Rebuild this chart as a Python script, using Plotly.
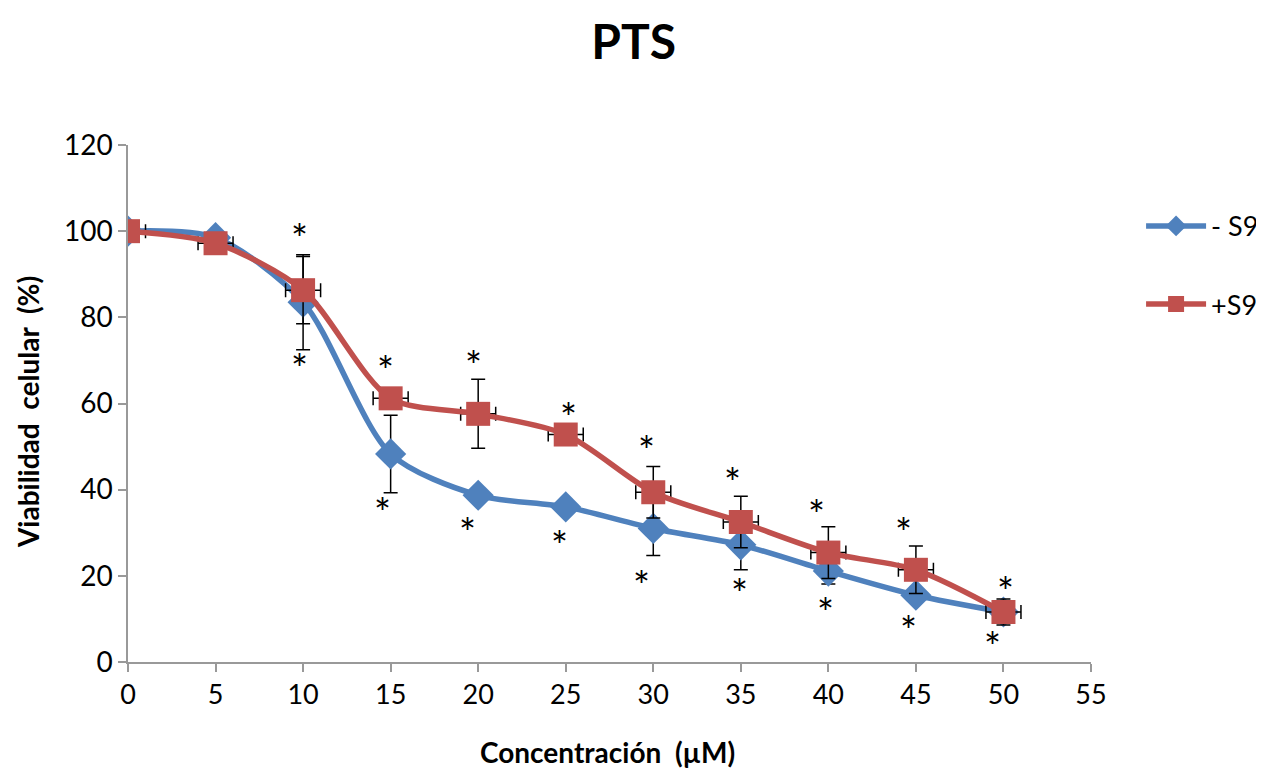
import plotly.graph_objects as go

conc = [0, 5, 10, 15, 20, 25, 30, 35, 40, 45, 50]
minus_s9 = [100, 98.5, 83.5, 48.3, 38.7, 36, 31, 27.2, 21.1, 15.5, 11.6]
minus_s9_err = [0.5, 1, 11, 9, 1, 1, 6.3, 5.8, 3, 1, 1]
plus_s9 = [100, 97.2, 86.3, 61.2, 57.6, 52.8, 39.4, 32.5, 25.4, 21.4, 11.6]
plus_s9_err = [0.5, 1, 7.8, 2, 8, 1, 6, 6, 6, 5.5, 3]
plus_s9_xerr = [1, 1, 1, 1, 1, 1, 1, 1, 1, 1, 1]

# significance asterisks (x, y in data units)
star_above_x = [9.8, 14.7, 19.75, 25.15, 29.6, 34.5, 39.3, 44.3, 50.1]
star_above_y = [100.5, 69.8, 71, 58.9, 51.3, 43.9, 36.4, 32.3, 18.6]
star_below_x = [9.8, 14.55, 19.4, 24.65, 29.3, 34.9, 39.85, 44.6, 49.4]
star_below_y = [70.3, 36.9, 32.3, 29.2, 20, 18.1, 13.7, 9.5, 5.8]

BLUE = "#4F81BD"
RED = "#C0504D"
FONT = "Lato"

fig = go.Figure()
fig.add_trace(go.Scatter(
    x=conc, y=minus_s9, name="- S9", mode="lines+markers",
    line=dict(color=BLUE, width=5.5, shape="spline", smoothing=0.8),
    marker=dict(symbol="diamond", size=24, color=BLUE),
    error_y=dict(type="data", array=minus_s9_err, color="black", thickness=1.5, width=7),
    legendgroup="a",
))
fig.add_trace(go.Scatter(
    x=conc, y=plus_s9, name="+S9", mode="lines+markers",
    line=dict(color=RED, width=5.5, shape="spline", smoothing=0.8),
    marker=dict(symbol="square", size=24, color=RED),
    error_y=dict(type="data", array=plus_s9_err, color="black", thickness=1.5, width=7),
    error_x=dict(type="data", array=plus_s9_xerr, color="black", thickness=1.5, width=7),
    legendgroup="b",
))

for xs, ys in [(star_above_x, star_above_y), (star_below_x, star_below_y)]:
    for x, y in zip(xs, ys):
        fig.add_annotation(x=x, y=y, text="*", showarrow=False,
                           font=dict(size=40, color="black", family=FONT),
                           yanchor="middle", yshift=-10)

# axis titles
fig.add_annotation(text="<b>Concentración  (µM)</b>", xref="x", x=27.4, yref="paper", y=0,
                   yshift=-90, yanchor="middle", xanchor="center", showarrow=False,
                   font=dict(size=28, family=FONT, color="black"))
fig.add_annotation(text="<b>Viabilidad  celular  (%)</b>", xref="paper", x=0, xshift=-100,
                   yref="y", y=58, xanchor="center", yanchor="middle", textangle=-90,
                   showarrow=False, font=dict(size=28, family=FONT, color="black"))

fig.update_layout(
    width=1264, height=763,
    paper_bgcolor="white", plot_bgcolor="white",
    margin=dict(l=120, r=181, t=137, b=109, autoexpand=False),
    title=dict(text="<b>PTS</b>", x=0.495, xanchor="center", y=0.955, yanchor="middle",
               font=dict(size=48, family=FONT, color="black")),
    font=dict(family=FONT, color="black"),
    legend=dict(x=1.052, y=0.89, xanchor="left", yanchor="top",
                font=dict(size=27, family=FONT, color="black"),
                tracegroupgap=40, itemwidth=60),
    xaxis=dict(range=[0, 55], tickvals=list(range(0, 56, 5)),
               showgrid=False, zeroline=False, showline=True, linecolor="#999999", linewidth=1.5,
               ticks="outside", tickcolor="#999999", ticklen=8, tickwidth=1.5,
               tickfont=dict(size=27, family=FONT, color="black")),
    yaxis=dict(range=[0, 120], tickvals=list(range(0, 121, 20)),
               showgrid=False, zeroline=False, showline=True, linecolor="#999999", linewidth=1.5,
               ticks="outside", tickcolor="#999999", ticklen=8, tickwidth=1.5,
               tickfont=dict(size=28, family=FONT, color="black")),
)

fig.write_html("out.html")
